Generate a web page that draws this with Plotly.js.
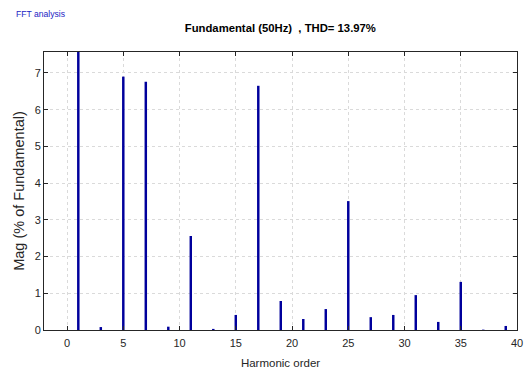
<!DOCTYPE html>
<html>
<head>
<meta charset="utf-8">
<script src="https://cdn.plot.ly/plotly-3.0.1.min.js"></script>
<style>
html,body{margin:0;padding:0;background:#fff;}
#chart{width:524px;height:370px;}
</style>
</head>
<body>
<div id="chart"></div>
<script>
// Harmonic orders and magnitudes (% of fundamental)
const harmonicOrder = [0,1,2,3,4,5,6,7,8,9,10,11,12,13,14,15,16,17,18,19,20,21,22,23,24,25,26,27,28,29,30,31,32,33,34,35,36,37,38,39];
const magnitude = [0,100,0,0.08,0,6.9,0,6.76,0,0.09,0,2.56,0,0.03,0,0.41,0,6.65,0,0.79,0,0.3,0,0.57,0,3.51,0,0.35,0,0.41,0,0.95,0,0.22,0,1.31,0,0.01,0,0.11];
const xTicks = [0,5,10,15,20,25,30,35,40];
const yTicks = [0,1,2,3,4,5,6,7];

const trace = {
  type: 'bar',
  x: harmonicOrder,
  y: magnitude,
  width: 0.22,
  marker: {color: '#00009c', line: {width: 0}},
  hoverinfo: 'x+y'
};

const axisCommon = {
  showline: true, linecolor: '#262626', linewidth: 1, mirror: 'ticks',
  ticks: 'inside', ticklen: 4, tickcolor: '#262626', tickwidth: 1,
  showgrid: true, gridcolor: '#dadada', griddash: 'dot', gridwidth: 1,
  zeroline: false,
  tickfont: {family: 'Liberation Sans, Arial, sans-serif', size: 11, color: '#262626'}
};

const layout = {
  width: 524, height: 370,
  margin: {l: 44, r: 7, t: 52, b: 40},
  paper_bgcolor: '#fff', plot_bgcolor: '#fff',
  showlegend: false,
  title: {
    text: '<b>Fundamental (50Hz)  , THD= 13.97%</b>',
    font: {family: 'Liberation Sans, Arial, sans-serif', size: 11.3, color: '#000'},
    x: 0.535, xanchor: 'center', y: 0.923, yanchor: 'middle'
  },
  xaxis: Object.assign({}, axisCommon, {
    range: [-2.05, 40], tickvals: xTicks, ticktext: xTicks.map(String),
    ticklabelstandoff: 3,
    title: {text: 'Harmonic order', font: {family: 'Liberation Sans, Arial, sans-serif', size: 11.5, color: '#262626'}, standoff: 10}
  }),
  yaxis: Object.assign({}, axisCommon, {
    range: [0, 7.57], tickvals: yTicks, ticktext: yTicks.map(String),
    title: {text: 'Mag (% of Fundamental)', font: {family: 'Liberation Sans, Arial, sans-serif', size: 14.5, color: '#262626'}, standoff: 6}
  }),
  annotations: [{
    text: 'FFT analysis', xref: 'paper', yref: 'paper', x: -0.063, y: 1.137,
    xanchor: 'left', yanchor: 'middle', showarrow: false,
    font: {family: 'Liberation Sans, Arial, sans-serif', size: 8.6, color: '#1c1cc4'}
  }]
};

Plotly.newPlot('chart', [trace], layout, {displayModeBar: false, staticPlot: true});
</script>
</body>
</html>
